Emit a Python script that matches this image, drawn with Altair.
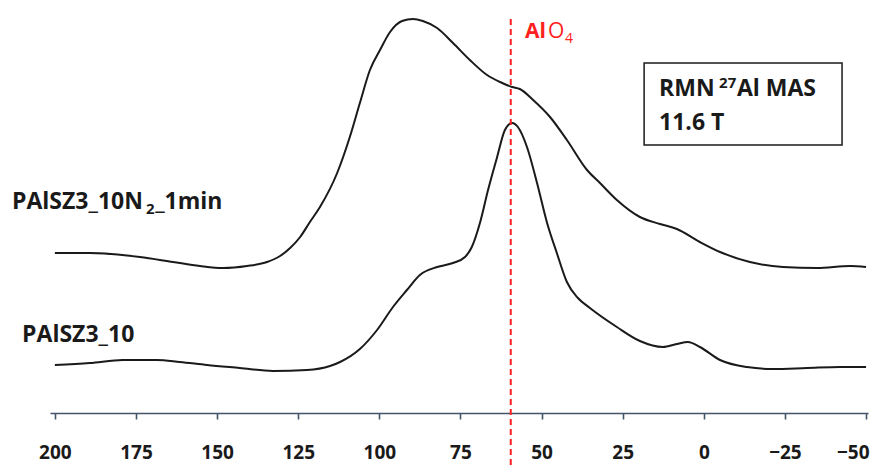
import altair as alt
import pandas as pd

# Upper spectrum: PAlSZ3_10N2_1min (ppm, intensity a.u.)
ppm_n2 = [200.0, 189.2, 173.8, 163.6, 155.3, 148.2, 140.8, 134.6, 130.6, 127.5, 124.4, 121.4,
          118.3, 113.0, 109.1, 106.0, 102.9, 99.8, 96.7, 93.0, 89.6, 86.6, 82.2, 77.3, 72.1,
          66.8, 62.8, 59.1, 56.7, 52.6, 47.4, 42.2, 36.0, 32.0, 26.8, 19.7, 13.5, 8.3,
          1.2, -5.0, -14.2, -24.4, -34.9, -45.1, -50.0]
int_n2 = [160, 160, 156, 151, 147, 145, 147, 151, 157, 165, 176, 191,
          206, 240, 276, 310, 343, 363, 381, 392, 394, 392, 385, 370, 353,
          338, 331, 326, 324, 313, 296, 273, 243, 230, 213, 196, 189, 184,
          171, 161, 151, 146, 145, 147, 146]

# Lower spectrum: PAlSZ3_10
ppm_ref = [200.0, 189.2, 179.0, 168.6, 161.5, 153.1, 143.0, 132.8, 122.3, 115.2, 112.1, 106.0,
           100.7, 95.8, 91.5, 87.5, 82.2, 77.3, 73.6, 71.5, 69.0, 66.5, 63.7, 61.3, 59.1, 57.3,
           54.5, 51.4, 48.3, 45.3, 42.2, 38.8, 35.1, 26.8, 19.7, 12.6, 8.3, 4.9, 1.2, -5.0,
           -13.3, -21.3, -31.8, -42.0, -50.0]
int_ref = [48, 50, 53, 53, 51, 48, 45, 42, 43, 47, 51, 64,
           83, 106, 123, 138, 146, 150, 156, 166, 190, 223, 256, 283, 290, 286,
           266, 230, 190, 160, 131, 115, 105, 86, 72, 66, 69, 71, 66, 53,
           46, 44, 45, 46, 46]

tick_values = [200, 175, 150, 125, 100, 75, 50, 25, 0, -25, -50]
alo4_ppm = 59.5

FONT = "Open Sans"
INK = "#1a1a1a"
RED = "#FF2020"

df = pd.concat([
    pd.DataFrame({"ppm": ppm_n2, "I": int_n2, "s": "n2", "o": range(len(ppm_n2))}),
    pd.DataFrame({"ppm": ppm_ref, "I": int_ref, "s": "ref", "o": range(len(ppm_ref))}),
])

xscale = alt.Scale(domain=[-50.6, 201.5], reverse=True, nice=False, zero=False)
yscale = alt.Scale(domain=[0, 405], nice=False, zero=False)

xaxis = alt.Axis(values=tick_values, title=None, grid=False, domainColor="#44546A",
                 tickColor="#44546A", domainWidth=1.5, tickWidth=1.6, tickSize=6,
                 labelFontSize=19, labelFont=FONT, labelFontWeight="bold",
                 labelColor=INK, labelPadding=24, labelOverlap=False, labelFlush=False,
                 labelAlign={"condition": {"test": "datum.value == -50", "value": "right"},
                             "value": "center"},
                 labelOffset={"condition": {"test": "datum.value == -50", "value": 3},
                              "value": 0})

lines = alt.Chart(df).mark_line(color=INK, strokeWidth=2, interpolate="monotone").encode(
    x=alt.X("ppm:Q", scale=xscale, axis=xaxis),
    y=alt.Y("I:Q", scale=yscale, axis=None),
    detail="s:N",
    order="o:Q",
)

rule = alt.Chart(pd.DataFrame({"ppm": [alo4_ppm]})).mark_rule(
    color=RED, strokeWidth=2, strokeDash=[6, 4]
).encode(x=alt.X("ppm:Q", scale=xscale), y=alt.value(11), y2=alt.value(470))

box = alt.Chart(pd.DataFrame({"x": [18.4], "x2": [-42.6], "y": [350], "y2": [268]})).mark_rect(
    fill="white", stroke=INK, strokeWidth=1.5
).encode(x=alt.X("x:Q", scale=xscale), x2="x2:Q",
         y=alt.Y("y:Q", scale=yscale), y2="y2:Q")

def txt(text, x, y, size, weight="bold", color=INK):
    return alt.Chart(pd.DataFrame({"x": [x], "y": [y], "t": [text]})).mark_text(
        align="left", baseline="alphabetic", fontSize=size, font=FONT,
        fontWeight=weight, color=color
    ).encode(x=alt.X("x:Q", scale=xscale), y=alt.Y("y:Q", scale=yscale), text="t:N")

texts = [
    txt("Al", 55.1, 375, 21, "bold", RED),
    txt("O", 48.0, 375, 21, "normal", RED),
    txt("4", 42.8, 370, 14, "normal", RED),
    txt("RMN", 13.8, 317, 23),
    txt("27", -4.7, 325, 15),
    txt("Al MAS", -10.2, 317, 23),
    txt("11.6 T", 13.8, 283, 23),
    txt("PAlSZ3_10N", 213.2, 204, 23),
    txt("2", 171.9, 199, 15),
    txt("_1min", 169.1, 204, 23),
    txt("PAlSZ3_10", 210.1, 71, 23),
]

chart = alt.layer(lines, rule, box, *texts).properties(
    width=818, height=405,
    autosize=alt.AutoSizeParams(type="none"),
    padding={"left": 42, "top": 0, "right": 2, "bottom": 53},
).configure_view(stroke=None)

chart.save("out.html", embed_options={"renderer": "svg", "actions": False})
